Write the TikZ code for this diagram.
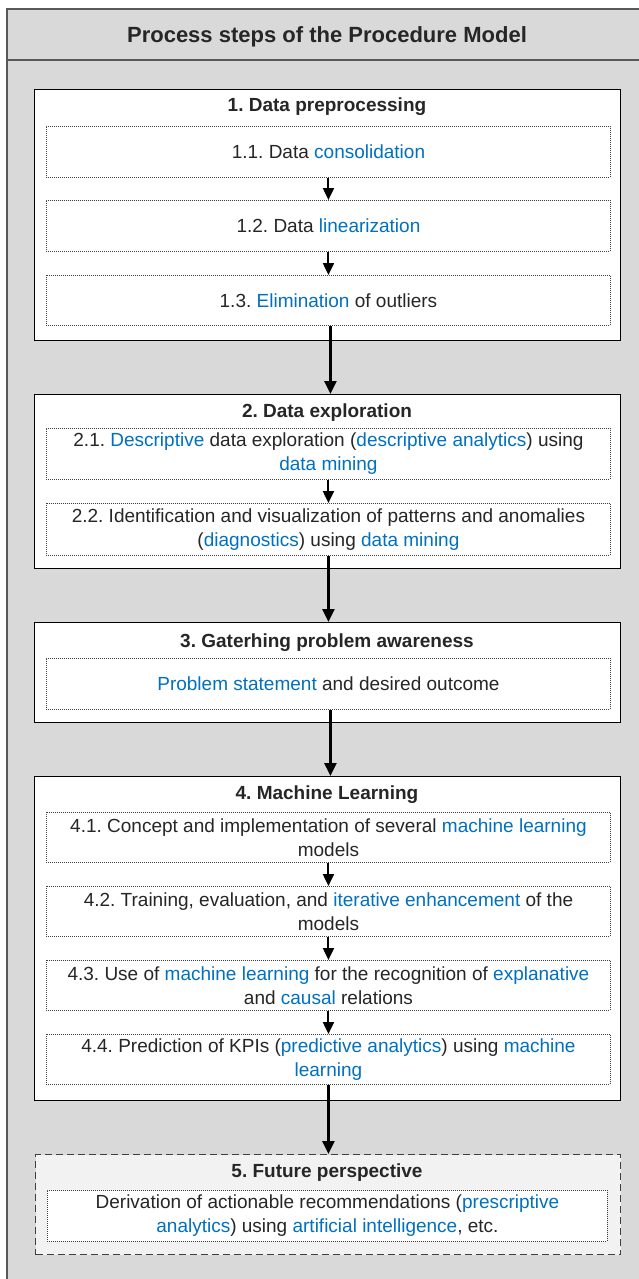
\documentclass[tikz,border=0pt]{standalone}
\usepackage{fontspec}
\setmainfont{Liberation Sans}
\usetikzlibrary{arrows.meta}
\frenchspacing
\definecolor{framegray}{HTML}{D9D9D9}
\definecolor{framedraw}{HTML}{595959}
\definecolor{futurefill}{HTML}{F2F2F2}
\definecolor{linkblue}{HTML}{0070C0}
\definecolor{txt}{HTML}{262626}
\definecolor{dotdraw}{HTML}{404040}
\newcommand{\bl}[1]{\textcolor{linkblue}{#1}}
\tikzset{
  every node/.style={text=txt, font=\fontsize{19}{24}\selectfont},
  mainbox/.style={draw=black, line width=1pt, fill=white, anchor=north west, inner sep=0pt},
  futurebox/.style={draw=dotdraw, line width=1.4pt, dash pattern=on 7pt off 4pt, fill=futurefill, anchor=north west, inner sep=0pt},
  subbox/.style={draw=dotdraw, line width=0.9pt, dash pattern=on 1pt off 1pt, fill=white, anchor=north west, inner sep=0pt},
  subtext/.style={align=center, inner sep=0pt},
  titletext/.style={font=\fontsize{19}{24}\selectfont\bfseries, inner sep=0pt, anchor=base},
  smallarr/.style={line width=2pt, -{Triangle[width=11pt,length=12pt]}},
  bigarr/.style={line width=2.5pt, -{Triangle[width=12pt,length=13pt]}}
}
\begin{document}
\frenchspacing
\begin{tikzpicture}[x=1pt,y=-1pt]
\useasboundingbox (0,0) rectangle (638,1279);
% frame
\path[fill=framegray, draw=framedraw, line width=1.2pt] (7,9) rectangle (660,1300);
\draw[framedraw, line width=1.2pt] (7,60) -- (660,60);
\node[font=\fontsize{22}{26}\selectfont\bfseries, inner sep=0pt, anchor=base] (head) at (327,43) {Process steps of the Procedure Model};

% Box 1
\node[mainbox, minimum width=586pt, minimum height=251pt] (b1) at (34,89) {};
\node[titletext] (t1) at (327,112) {1. Data preprocessing};
\node[subbox, minimum width=564pt, minimum height=51pt] (s11) at (46,126) {};
\node[subtext] at (s11.center) {1.1. Data \bl{consolidation}};
\node[subbox, minimum width=564pt, minimum height=51pt] (s12) at (46,200) {};
\node[subtext] at (s12.center) {1.2. Data \bl{linearization}};
\node[subbox, minimum width=564pt, minimum height=50pt] (s13) at (46,275) {};
\node[subtext] at (s13.center) {1.3. \bl{Elimination} of outliers};

% Box 2
\node[mainbox, minimum width=586pt, minimum height=174pt] (b2) at (34,394) {};
\node[titletext] (t2) at (327,417) {2. Data exploration};
\node[subbox, minimum width=564pt, minimum height=51pt] (s21) at (46,428) {};
\node[subtext] at (s21.center) {2.1. \bl{Descriptive} data exploration (\bl{descriptive analytics}) using\\\bl{data mining}};
\node[subbox, minimum width=564pt, minimum height=52pt] (s22) at (46,503) {};
\node[subtext] at (s22.center) {2.2. Identification and visualization of patterns and anomalies\\(\bl{diagnostics}) using \bl{data mining}};

% Box 3
\node[mainbox, minimum width=586pt, minimum height=100pt] (b3) at (34,622) {};
\node[titletext] (t3) at (327,647) {3. Gaterhing problem awareness};
\node[subbox, minimum width=564pt, minimum height=51pt] (s31) at (46,658) {};
\node[subtext] at (s31.center) {\bl{Problem statement} and desired outcome};

% Box 4
\node[mainbox, minimum width=586pt, minimum height=324pt] (b4) at (34,776) {};
\node[titletext] (t4) at (327,799) {4. Machine Learning};
\node[subbox, minimum width=564pt, minimum height=50pt] (s41) at (46,812) {};
\node[subtext] at (s41.center) {4.1. Concept and implementation of several \bl{machine learning}\\models};
\node[subbox, minimum width=564pt, minimum height=50pt] (s42) at (46,886) {};
\node[subtext] at (s42.center) {4.2. Training, evaluation, and \bl{iterative enhancement} of the\\models};
\node[subbox, minimum width=564pt, minimum height=50pt] (s43) at (46,960) {};
\node[subtext] at (s43.center) {4.3. Use of \bl{machine learning} for the recognition of \bl{explanative}\\and \bl{causal} relations};
\node[subbox, minimum width=564pt, minimum height=50pt] (s44) at (46,1034) {};
\node[subtext] at (s44.center) {4.4. Prediction of KPIs (\bl{predictive analytics}) using \bl{machine}\\\bl{learning}};

% Box 5
\node[futurebox, minimum width=585pt, minimum height=100pt] (b5) at (35,1154) {};
\node[titletext] (t5) at (327,1177) {5. Future perspective};
\node[subbox, minimum width=560pt, minimum height=51pt] (s51) at (47,1190) {};
\node[subtext] at (s51.center) {Derivation of actionable recommendations (\bl{prescriptive}\\\bl{analytics}) using \bl{artificial intelligence}, etc.};

% arrows
\draw[smallarr] (s11.south) -- (s12.north);
\draw[smallarr] (s12.south) -- (s13.north);
\draw[bigarr] ([xshift=2pt]s13.south) -- ([xshift=2pt]s13.south |- b2.north);
\draw[smallarr] (s21.south) -- (s22.north);
\draw[bigarr] (s22.south) -- (s22.south |- b3.north);
\draw[bigarr] ([xshift=2pt]s31.south) -- ([xshift=2pt]s31.south |- b4.north);
\draw[smallarr] (s41.south) -- (s42.north);
\draw[smallarr] (s42.south) -- (s43.north);
\draw[smallarr] (s43.south) -- (s44.north);
\draw[bigarr] (s44.south) -- (s44.south |- b5.north);
\end{tikzpicture}
\end{document}
